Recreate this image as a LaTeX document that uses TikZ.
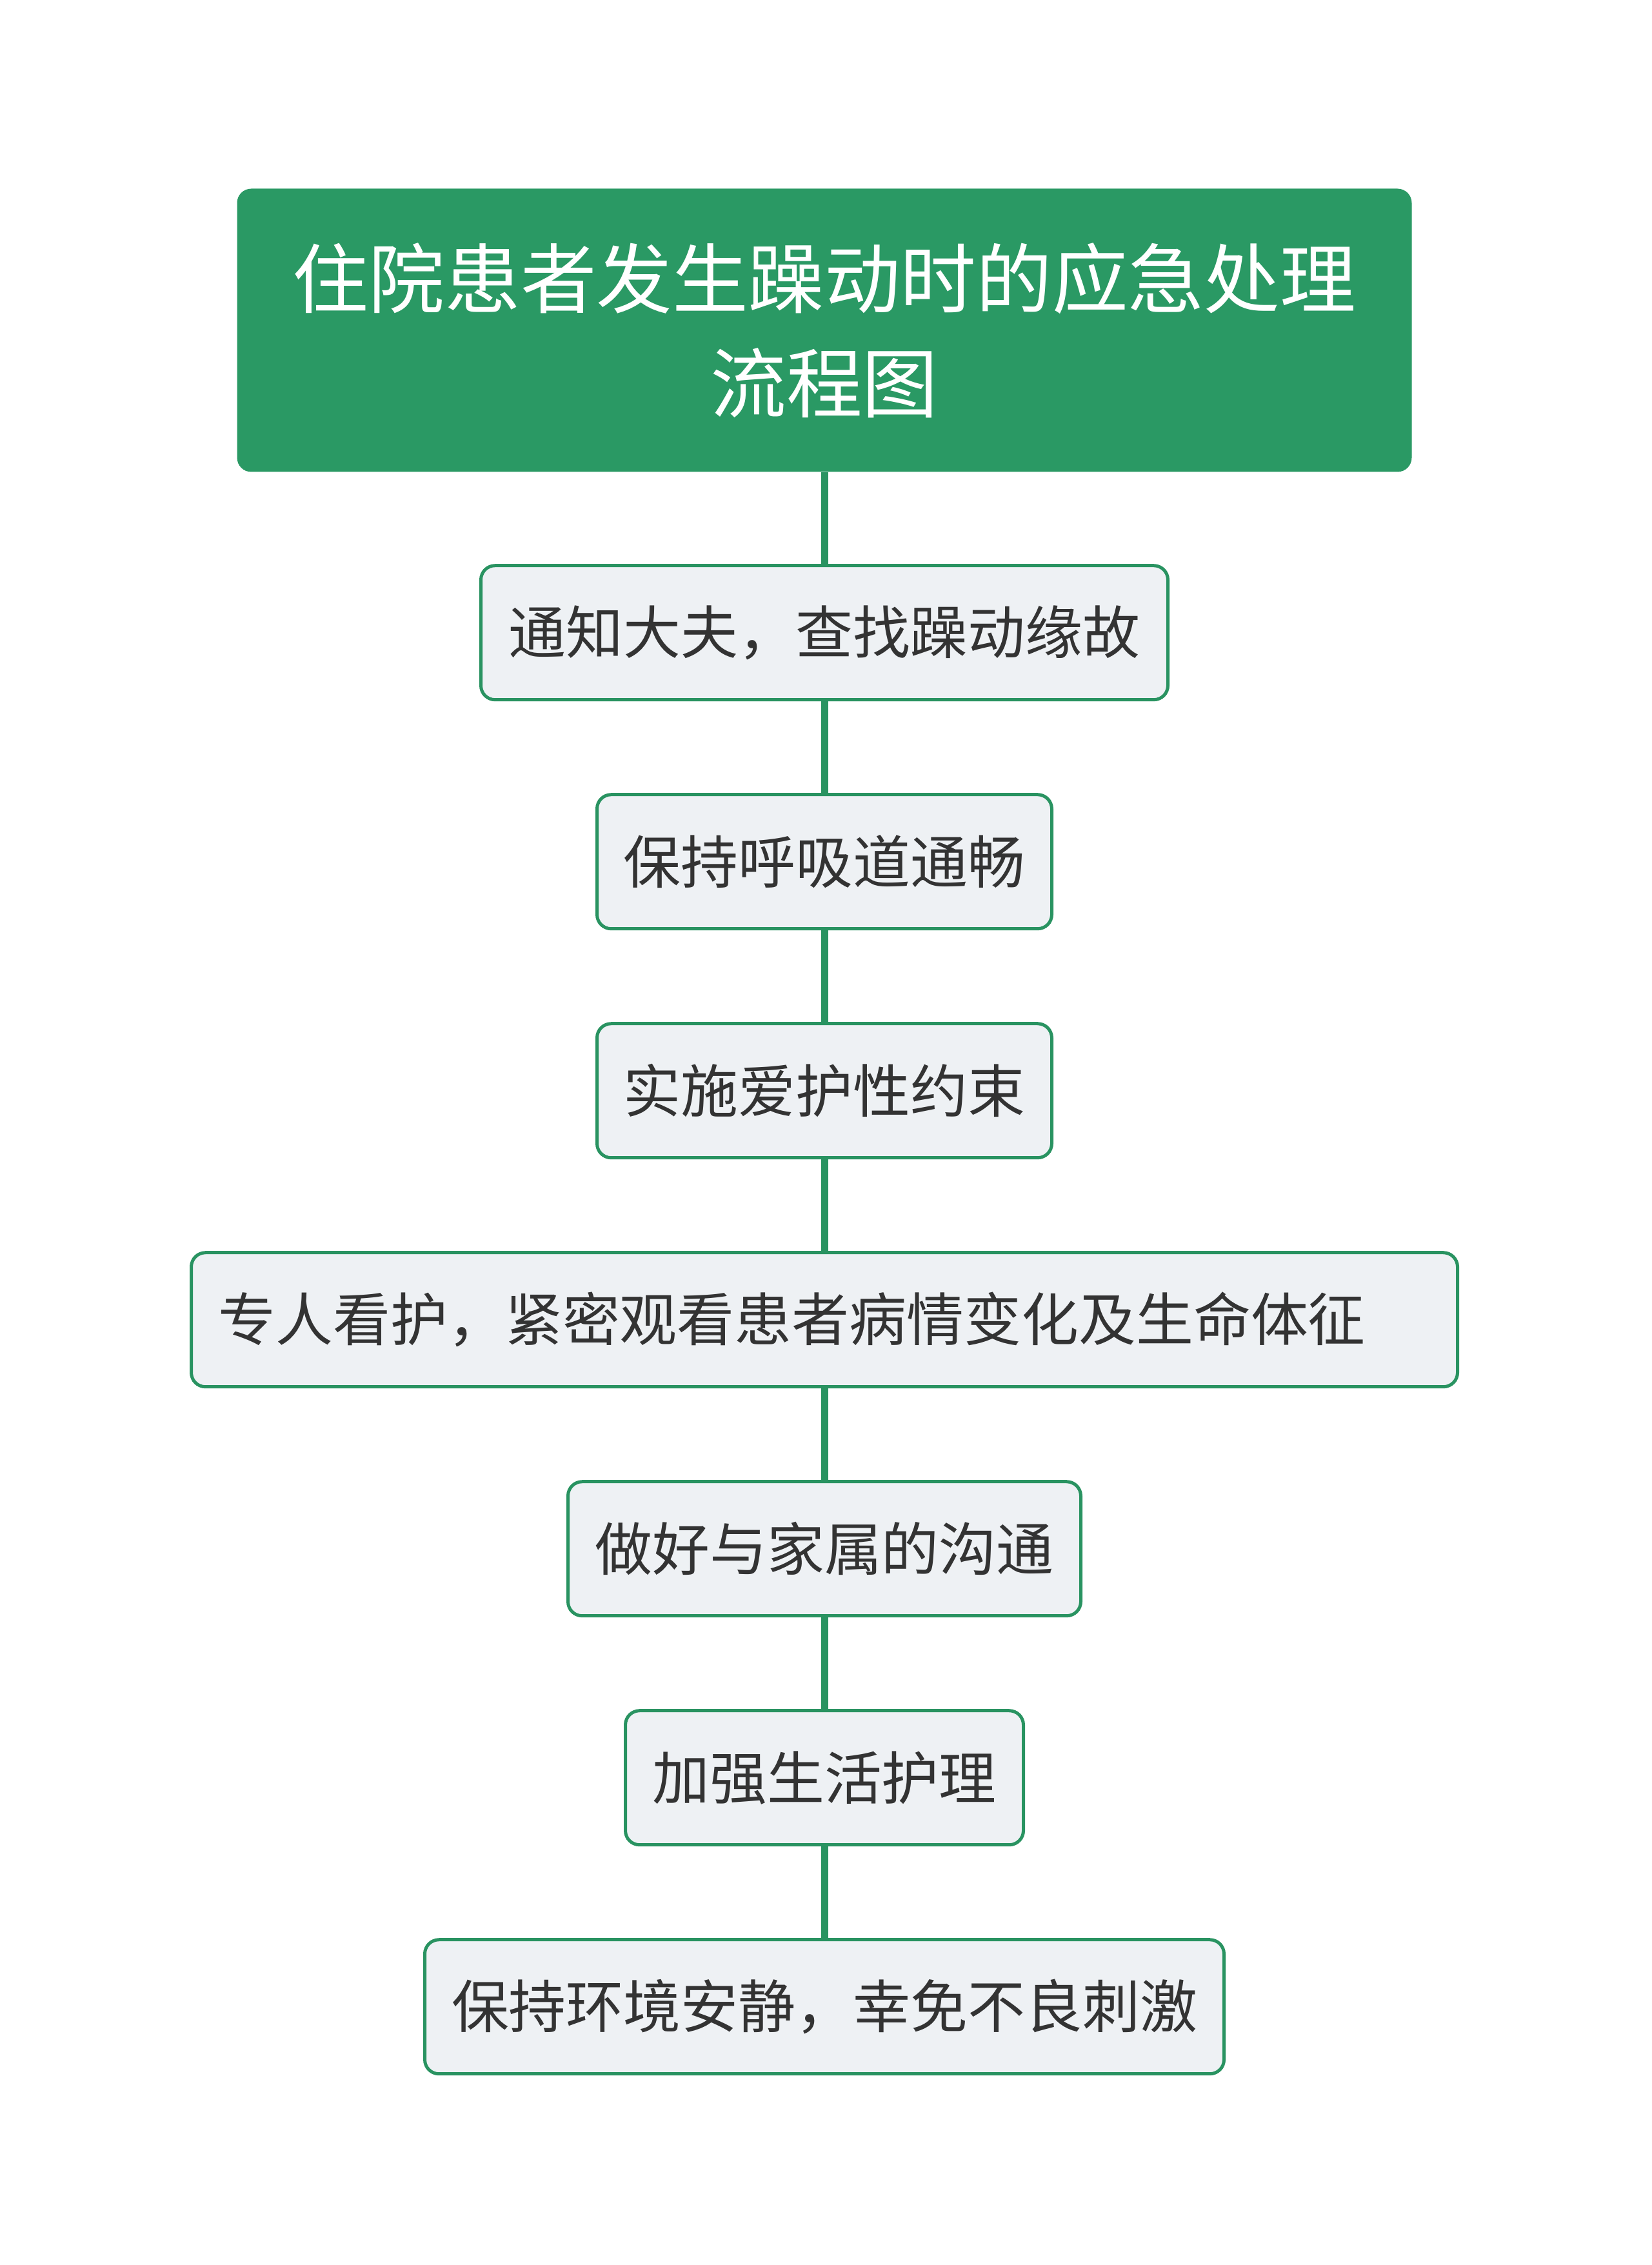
\documentclass[tikz,border=0pt]{standalone}
\usepackage{fontspec}
\setmainfont{Noto Sans CJK SC}
\usetikzlibrary{positioning}

\definecolor{titlegreen}{RGB}{42,153,100}
\definecolor{linegreen}{RGB}{41,147,97}
\definecolor{boxfill}{RGB}{238,241,244}
\definecolor{boxtext}{RGB}{51,51,51}

\begin{document}
\begin{tikzpicture}[
	titlebox/.style={fill=titlegreen,draw=none,rounded corners=0.22cm,text=white,align=center,
		minimum width=18.21cm,minimum height=4.39cm,font=\fontsize{33.5}{46}\selectfont},
	stepbox/.style={fill=boxfill,draw=linegreen,line width=0.05cm,rounded corners=0.22cm,text=boxtext,
		minimum height=2.08cm,inner xsep=0.3cm,font=\fontsize{25.3}{30}\selectfont},
	link/.style={draw=linegreen,line width=0.11cm},
	node distance=1.42cm
	]
	
	%\draw[help lines] (0,0) grid (25.6,-35.11);
	\useasboundingbox (0,0) rectangle (25.6,-35.11);

	\def\midx{12.78}
	
	\node[titlebox] (title) at (\midx,-5.12) {住院患者发生躁动时的应急处理\\流程图};
	
	\node[stepbox,minimum width=10.65cm,below=of title] (notify) {通知大夫，查找躁动缘故};
	\node[stepbox,minimum width=7.05cm,below=of notify] (airway) {保持呼吸道通畅};
	\node[stepbox,minimum width=7.05cm,below=of airway] (restrain) {实施爱护性约束};
	\node[stepbox,text width=18.79cm,align=left,inner xsep=0.42cm,below=of restrain] (watch) {专人看护，紧密观看患者病情变化及生命体征};
	\node[stepbox,minimum width=7.95cm,below=of watch] (family) {做好与家属的沟通};
	\node[stepbox,minimum width=6.17cm,below=of family] (care) {加强生活护理};
	\node[stepbox,minimum width=12.39cm,below=of care] (quiet) {保持环境安静，幸免不良刺激};
	
	\foreach \a/\b in {title/notify,notify/airway,airway/restrain,restrain/watch,watch/family,family/care,care/quiet} {
		\draw[link] (\a.south) -- (\b.north);
	}
	
\end{tikzpicture}
\end{document}
